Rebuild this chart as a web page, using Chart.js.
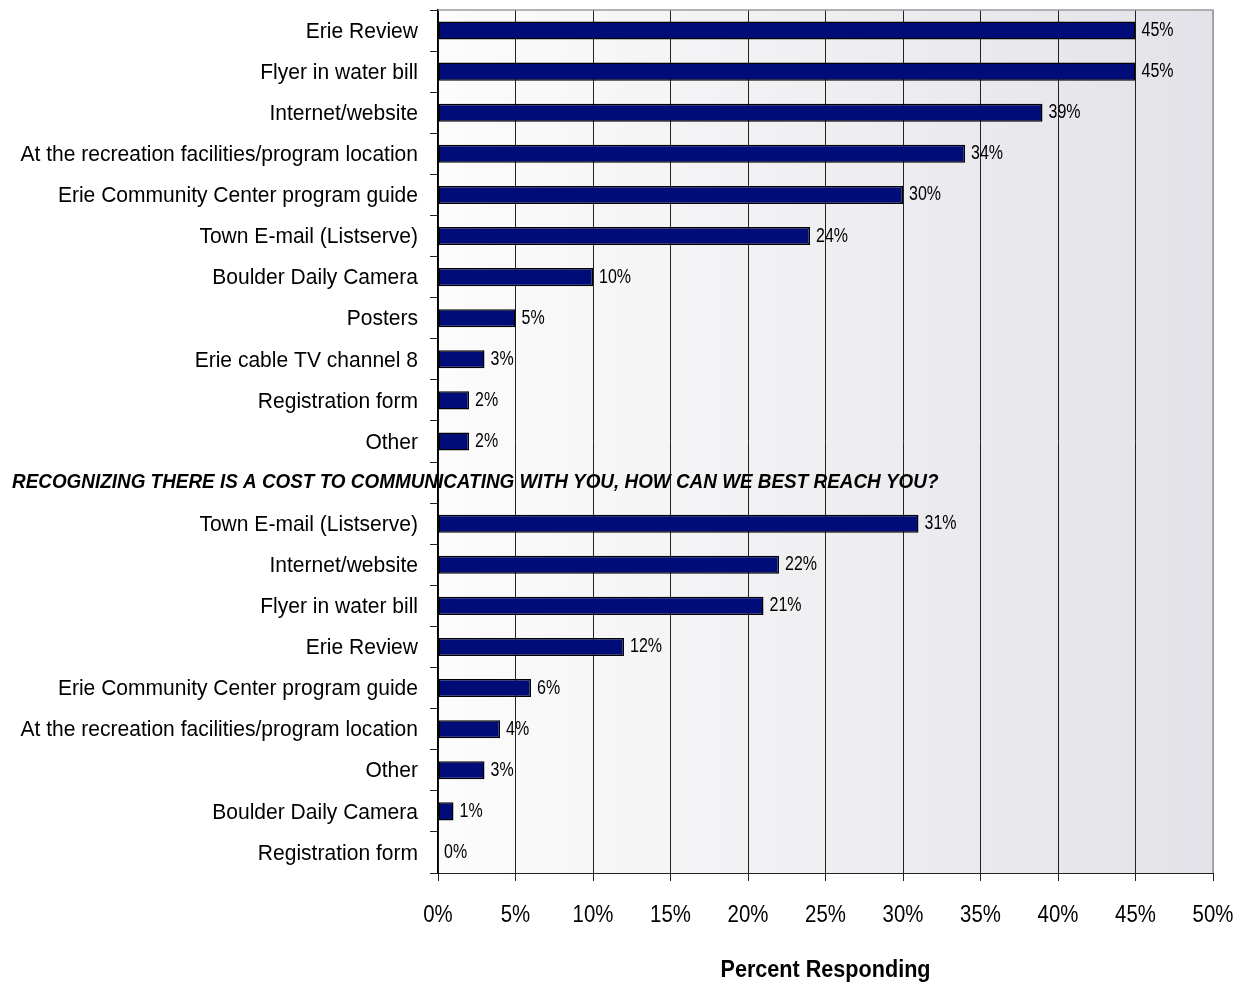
<!DOCTYPE html>
<html>
<head>
<meta charset="utf-8">
<title>Communication sources</title>
<script src="https://cdn.jsdelivr.net/npm/chart.js@4.4.1/dist/chart.umd.min.js"></script>
<style>
  html, body { margin: 0; padding: 0; background: #fff; }
  #wrap { width: 1244px; height: 985px; position: relative; }
</style>
</head>
<body>
<div id="wrap"><canvas id="srcChart"></canvas></div>
<script>
// Where residents hear about programs (first block) and preferred channel (second block)
const heardLabels = [
  'Erie Review', 'Flyer in water bill', 'Internet/website',
  'At the recreation facilities/program location', 'Erie Community Center program guide',
  'Town E-mail (Listserve)', 'Boulder Daily Camera', 'Posters',
  'Erie cable TV channel 8', 'Registration form', 'Other'
];
const heardValues = [45, 45, 39, 34, 30, 24, 10, 5, 3, 2, 2];

const sectionHeading = 'RECOGNIZING THERE IS A COST TO COMMUNICATING WITH YOU, HOW CAN WE BEST REACH YOU?';

const reachLabels = [
  'Town E-mail (Listserve)', 'Internet/website', 'Flyer in water bill', 'Erie Review',
  'Erie Community Center program guide', 'At the recreation facilities/program location',
  'Other', 'Boulder Daily Camera', 'Registration form'
];
const reachValues = [31, 22, 21, 12, 6, 4, 3, 1, 0];

const xTicks = [0, 5, 10, 15, 20, 25, 30, 35, 40, 45, 50];
const xTitle = 'Percent Responding';

const labels = [...heardLabels, '', ...reachLabels];
const values = [...heardValues, null, ...reachValues];
const headingIndex = heardLabels.length;

// Arial metrics squeezed horizontally, for an Arial Narrow look
const FONT = "'Liberation Sans', Arial, sans-serif";

function narrowText(ctx, text, x, y, align, font, squeeze) {
  ctx.save();
  ctx.font = font;
  ctx.textAlign = align;
  ctx.textBaseline = 'middle';
  ctx.translate(x, y);
  ctx.scale(squeeze, 1);
  ctx.fillText(text, 0, 0);
  ctx.restore();
}

// plot background: soft white-to-grey gradient plus grey frame on top/right
const plotBackground = {
  id: 'plotBackground',
  beforeDraw(chart) {
    const { ctx, chartArea: a } = chart;
    const g = ctx.createLinearGradient(a.left, 0, a.right, 0);
    g.addColorStop(0, '#fcfcfc');
    g.addColorStop(1, '#e2e2e8');
    ctx.save();
    ctx.fillStyle = g;
    ctx.fillRect(a.left, a.top, a.right - a.left, a.bottom - a.top);
    ctx.restore();
  },
  afterDraw(chart) {
    const { ctx, chartArea: a } = chart;
    ctx.save();
    ctx.strokeStyle = '#9a9a9a';
    ctx.lineWidth = 1.5;
    ctx.beginPath();
    ctx.moveTo(a.left, a.top);
    ctx.lineTo(a.right, a.top);
    ctx.lineTo(a.right, a.bottom);
    ctx.stroke();
    ctx.restore();
  }
};

// all text: category labels, heading row, percent labels, x ticks and title
const chartText = {
  id: 'chartText',
  afterDatasetsDraw(chart) {
    const { ctx, chartArea: a } = chart;
    const x = chart.scales.x, y = chart.scales.y;
    ctx.save();
    ctx.fillStyle = '#000';

    labels.forEach((lab, i) => {
      if (lab) narrowText(ctx, lab, a.left - 20, y.getPixelForValue(i) + 1, 'right', '22.5px ' + FONT, 0.935);
    });

    narrowText(ctx, sectionHeading, 12, y.getPixelForValue(headingIndex), 'left',
      'italic bold 21px ' + FONT, 0.9);

    const meta = chart.getDatasetMeta(0);
    meta.data.forEach((bar, i) => {
      const v = values[i];
      if (v === null) return;
      narrowText(ctx, v + '%', bar.x + 6, bar.y, 'left', '20px ' + FONT, 0.8);
    });

    xTicks.forEach(v => {
      narrowText(ctx, v + '%', x.getPixelForValue(v), a.bottom + 42, 'center', '24px ' + FONT, 0.85);
    });

    narrowText(ctx, xTitle, (a.left + a.right) / 2, a.bottom + 97, 'center', 'bold 24px ' + FONT, 0.9);
    ctx.restore();
  }
};

new Chart(document.getElementById('srcChart'), {
  type: 'bar',
  data: {
    labels: labels,
    datasets: [{
      data: values,
      backgroundColor: '#000c78',
      borderColor: '#000',
      borderWidth: 1.5,
      borderSkipped: false,
      barPercentage: 0.44,
      categoryPercentage: 1
    }]
  },
  options: {
    indexAxis: 'y',
    responsive: true,
    maintainAspectRatio: false,
    animation: false,
    layout: { padding: { top: 10, right: 31, left: 0, bottom: 0 } },
    scales: {
      x: {
        min: 0, max: 50,
        afterBuildTicks(scale) { scale.ticks = xTicks.map(v => ({ value: v })); },
        afterFit(scale) {
          scale.height = 112;
          scale.paddingLeft = 0;
          scale.paddingRight = 0;
        },
        grid: {
          color: c => c.tick && c.tick.value === 50 ? '#9a9a9a' : '#222',
          tickColor: '#222',
          lineWidth: 1,
          tickLength: 8,
          drawTicks: true
        },
        border: { color: '#222', width: 1 },
        ticks: { display: false }
      },
      y: {
        afterFit(scale) {
          scale.width = 438;
          scale.paddingTop = 0;
          scale.paddingBottom = 0;
        },
        grid: {
          offset: true,
          drawOnChartArea: false,
          drawTicks: true,
          tickLength: 8,
          color: '#222'
        },
        border: { color: '#000', width: 1.5 },
        ticks: { display: false, autoSkip: false }
      }
    },
    plugins: {
      legend: { display: false },
      tooltip: { enabled: false }
    }
  },
  plugins: [plotBackground, chartText]
});
</script>
</body>
</html>
